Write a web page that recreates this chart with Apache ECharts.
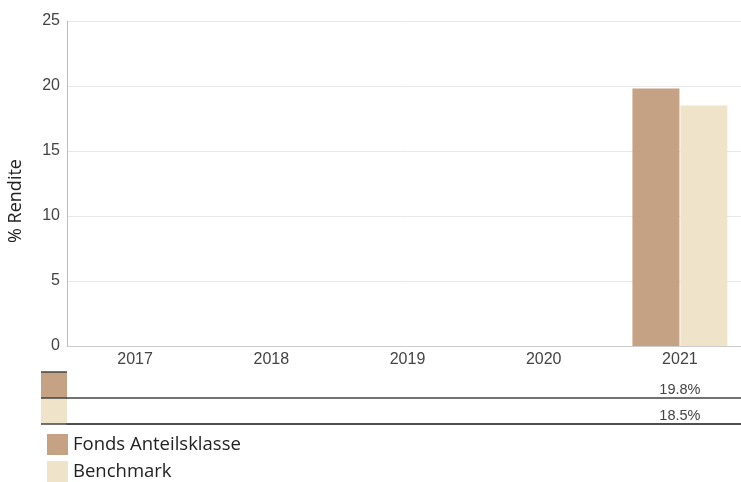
<!DOCTYPE html>
<html>
<head>
<meta charset="utf-8">
<script src="https://cdn.jsdelivr.net/npm/echarts@6/dist/echarts.min.js"></script>
<style>html,body{margin:0;padding:0;background:#fff;overflow:hidden}#c{width:748px;height:482px}</style>
</head>
<body>
<div id="c"></div>
<script>
const years = ['2017', '2018', '2019', '2020', '2021'];
const fundValues = [null, null, null, null, 19.8];
const benchValues = [null, null, null, null, 18.5];
const seriesNames = ['Fonds Anteilsklasse', 'Benchmark'];
const yTicks = [0, 5, 10, 15, 20, 25];
const colors = ['#c4a283', '#efe3c9'];

const chart = echarts.init(document.getElementById('c'));
const fmt = arr => (v, i) => arr[i] == null ? '' : arr[i].toFixed(1) + '%';
const lab = 'Liberation Sans';

chart.setOption({
  animation: false,
  color: colors,
  grid: [
    {left: 67, right: 0, top: 21, height: 325},
    {left: 67, right: 0, top: 372, height: 26},
    {left: 67, right: 0, top: 398, height: 26}
  ],
  xAxis: [
    {gridIndex: 0, type: 'category', data: years,
     axisLine: {lineStyle: {color: '#cccccc'}}, axisTick: {show: false},
     axisLabel: {color: '#444', fontSize: 16, fontFamily: lab, margin: 6}},
    {gridIndex: 1, type: 'category', data: years, position: 'top',
     axisLine: {lineStyle: {color: '#444', width: 1.5}}, axisTick: {show: false},
     axisLabel: {inside: true, margin: 10, color: '#444', fontSize: 14.5, fontFamily: lab, formatter: fmt(fundValues)}},
    {gridIndex: 2, type: 'category', data: years, position: 'top',
     axisLine: {lineStyle: {color: '#444', width: 1.5}}, axisTick: {show: false},
     axisLabel: {inside: true, margin: 10, color: '#444', fontSize: 14.5, fontFamily: lab, formatter: fmt(benchValues)}},
    {gridIndex: 2, type: 'category', data: years, position: 'bottom',
     axisLine: {lineStyle: {color: '#444', width: 1.5}}, axisTick: {show: false},
     axisLabel: {show: false}}
  ],
  yAxis: [
    {gridIndex: 0, type: 'value', min: yTicks[0], max: yTicks[yTicks.length - 1], interval: 5,
     axisLine: {show: true, lineStyle: {color: '#bbbbbb'}}, axisTick: {show: false},
     splitLine: {lineStyle: {color: '#e8e8e8'}},
     axisLabel: {color: '#444', fontSize: 16, fontFamily: lab, margin: 7, padding: [4, 0, 0, 0]}},
    {gridIndex: 1, type: 'value', show: false},
    {gridIndex: 2, type: 'value', show: false}
  ],
  legend: {
    orient: 'vertical', left: 47, top: 434, itemWidth: 21, itemHeight: 21, itemGap: 6,
    padding: 0, icon: 'rect', data: seriesNames,
    textStyle: {fontSize: 18.5, fontFamily: 'Open Sans', color: '#222'}
  },
  series: [
    {name: seriesNames[0], type: 'bar', data: fundValues, barWidth: 47, barGap: '2%', xAxisIndex: 0, yAxisIndex: 0},
    {name: seriesNames[1], type: 'bar', data: benchValues, barWidth: 47, barGap: '2%', xAxisIndex: 0, yAxisIndex: 0}
  ],
  graphic: [
    {type: 'text', x: 16, y: 201, rotation: Math.PI / 2,
     style: {text: '% Rendite', font: '18px "Open Sans"', fill: '#222', textAlign: 'center', textVerticalAlign: 'middle'}},
    {type: 'rect', shape: {x: 41, y: 372, width: 26, height: 26}, style: {fill: colors[0]}},
    {type: 'rect', shape: {x: 41, y: 398, width: 26, height: 26}, style: {fill: colors[1]}},
    {type: 'line', shape: {x1: 41, y1: 372, x2: 67, y2: 372}, style: {stroke: '#444', lineWidth: 1.5}},
    {type: 'line', shape: {x1: 41, y1: 398, x2: 67, y2: 398}, style: {stroke: '#444', lineWidth: 1.5}},
    {type: 'line', shape: {x1: 41, y1: 424, x2: 67, y2: 424}, style: {stroke: '#444', lineWidth: 1.5}}
  ]
});
</script>
</body>
</html>
